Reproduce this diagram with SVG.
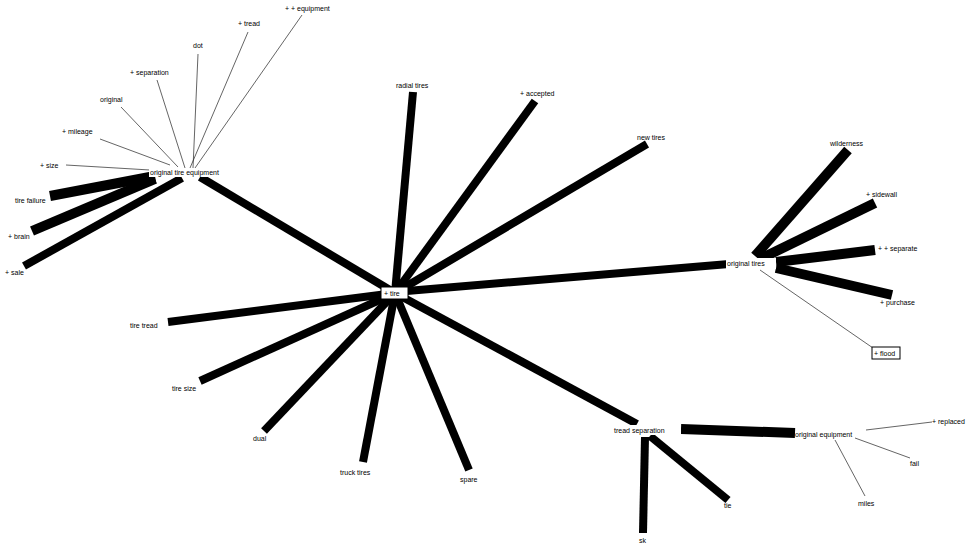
<svg xmlns="http://www.w3.org/2000/svg" width="973" height="548" viewBox="0 0 973 548">
<style>
text{font-family:"Liberation Sans",Arial,sans-serif;font-size:7px;fill:#000}
.thick{stroke:#000;stroke-width:8;stroke-linecap:butt}
.mid{stroke:#000;stroke-width:10;stroke-linecap:butt}
.thin{stroke:#222;stroke-width:0.7}
.box{fill:#fff;stroke:#000;stroke-width:1}
</style>
<rect width="973" height="548" fill="#fff"/>
<g id="connectors">
<line class="thick" x1="395" y1="293" x2="413" y2="92"/>
<line class="thick" x1="395" y1="293" x2="535" y2="101"/>
<line class="thick" x1="395" y1="293" x2="647" y2="144"/>
<line class="thick" x1="395" y1="292" x2="729" y2="264"/>
<line class="thick" x1="395" y1="293" x2="637" y2="424"/>
<line class="thick" x1="395" y1="293" x2="469" y2="470"/>
<line class="thick" x1="395" y1="293" x2="363" y2="462"/>
<line class="thick" x1="395" y1="293" x2="264" y2="431"/>
<line class="thick" x1="395" y1="293" x2="200" y2="381"/>
<line class="thick" x1="395" y1="293" x2="168" y2="322"/>
<line class="thick" x1="395" y1="293" x2="200" y2="177"/>
<line class="thin" x1="302" y1="15" x2="195" y2="168"/>
<line class="thin" x1="248" y1="32" x2="190" y2="168"/>
<line class="thin" x1="198" y1="54" x2="193" y2="168"/>
<line class="thin" x1="157" y1="80" x2="185" y2="168"/>
<line class="thin" x1="121" y1="107" x2="178" y2="167"/>
<line class="thin" x1="100" y1="139" x2="170" y2="165"/>
<line class="thin" x1="66" y1="165" x2="150" y2="170"/>
<line class="mid" x1="50" y1="196" x2="155" y2="176"/>
<line class="mid" x1="32" y1="231" x2="155" y2="179"/>
<line class="thick" x1="24" y1="266" x2="182" y2="178"/>
<line class="mid" x1="848" y1="150" x2="755" y2="256"/>
<line class="mid" x1="875" y1="203" x2="760" y2="259"/>
<line class="mid" x1="875" y1="250" x2="776" y2="262"/>
<line class="mid" x1="892" y1="295" x2="776" y2="268"/>
<line class="thin" x1="760" y1="270" x2="873" y2="348"/>
<line class="mid" x1="681" y1="429" x2="795" y2="433"/>
<line class="thick" x1="650" y1="436" x2="728" y2="500"/>
<line class="thick" x1="645" y1="437" x2="643" y2="533"/>
<line class="thin" x1="866" y1="430" x2="932" y2="422"/>
<line class="thin" x1="855" y1="438" x2="910" y2="458"/>
<line class="thin" x1="835" y1="440" x2="865" y2="496"/>
</g>
<g id="n-tire"><rect class="box" x="381" y="287" width="27" height="12"/><text x="384" y="295.5">+ tire</text></g>
<g id="n-radial"><text x="396" y="88">radial tires</text></g>
<g id="n-accepted"><text x="520" y="96">+ accepted</text></g>
<g id="n-new"><text x="637" y="140">new tires</text></g>
<g id="n-origtires"><rect x="726" y="258" width="50" height="11" fill="#fff"/><text x="727" y="266">original tires</text></g>
<g id="n-treadsep"><rect x="613" y="425" width="68" height="10" fill="#fff"/><text x="614" y="433">tread separation</text></g>
<g id="n-spare"><text x="460" y="482">spare</text></g>
<g id="n-truck"><text x="340" y="475">truck tires</text></g>
<g id="n-dual"><text x="253" y="441">dual</text></g>
<g id="n-tiresize"><text x="172" y="391">tire size</text></g>
<g id="n-tiretread"><text x="130" y="328">tire tread</text></g>
<g id="n-ote"><rect x="149" y="168" width="86" height="9" fill="#fff"/><text x="150" y="175">original tire equipment</text></g>
<g id="n-equip"><text x="285" y="11">+ + equipment</text></g>
<g id="n-tread"><text x="238" y="26">+ tread</text></g>
<g id="n-dot"><text x="193" y="48">dot</text></g>
<g id="n-sep"><text x="130" y="75">+ separation</text></g>
<g id="n-original"><text x="100" y="102">original</text></g>
<g id="n-mileage"><text x="62" y="134">+ mileage</text></g>
<g id="n-size"><text x="40" y="168">+ size</text></g>
<g id="n-failure"><text x="15" y="203">tire failure</text></g>
<g id="n-brain"><text x="8" y="239">+ brain</text></g>
<g id="n-sale"><text x="5" y="275">+ sale</text></g>
<g id="n-wild"><text x="830" y="146">wilderness</text></g>
<g id="n-sidewall"><text x="866" y="197">+ sidewall</text></g>
<g id="n-separate"><text x="878" y="251">+ + separate</text></g>
<g id="n-purchase"><text x="880" y="305">+ purchase</text></g>
<g id="n-flood"><rect class="box" x="872" y="347" width="28" height="12" stroke-width="0.8"/><text x="874" y="356">+ flood</text></g>
<g id="n-origeq"><text x="795" y="437">original equipment</text></g>
<g id="n-replaced"><text x="932" y="424">+ replaced</text></g>
<g id="n-fail"><text x="910" y="466">fail</text></g>
<g id="n-miles"><text x="858" y="506">miles</text></g>
<g id="n-tie"><text x="724" y="508">tie</text></g>
<g id="n-sk"><text x="639" y="543">sk</text></g>
</svg>
